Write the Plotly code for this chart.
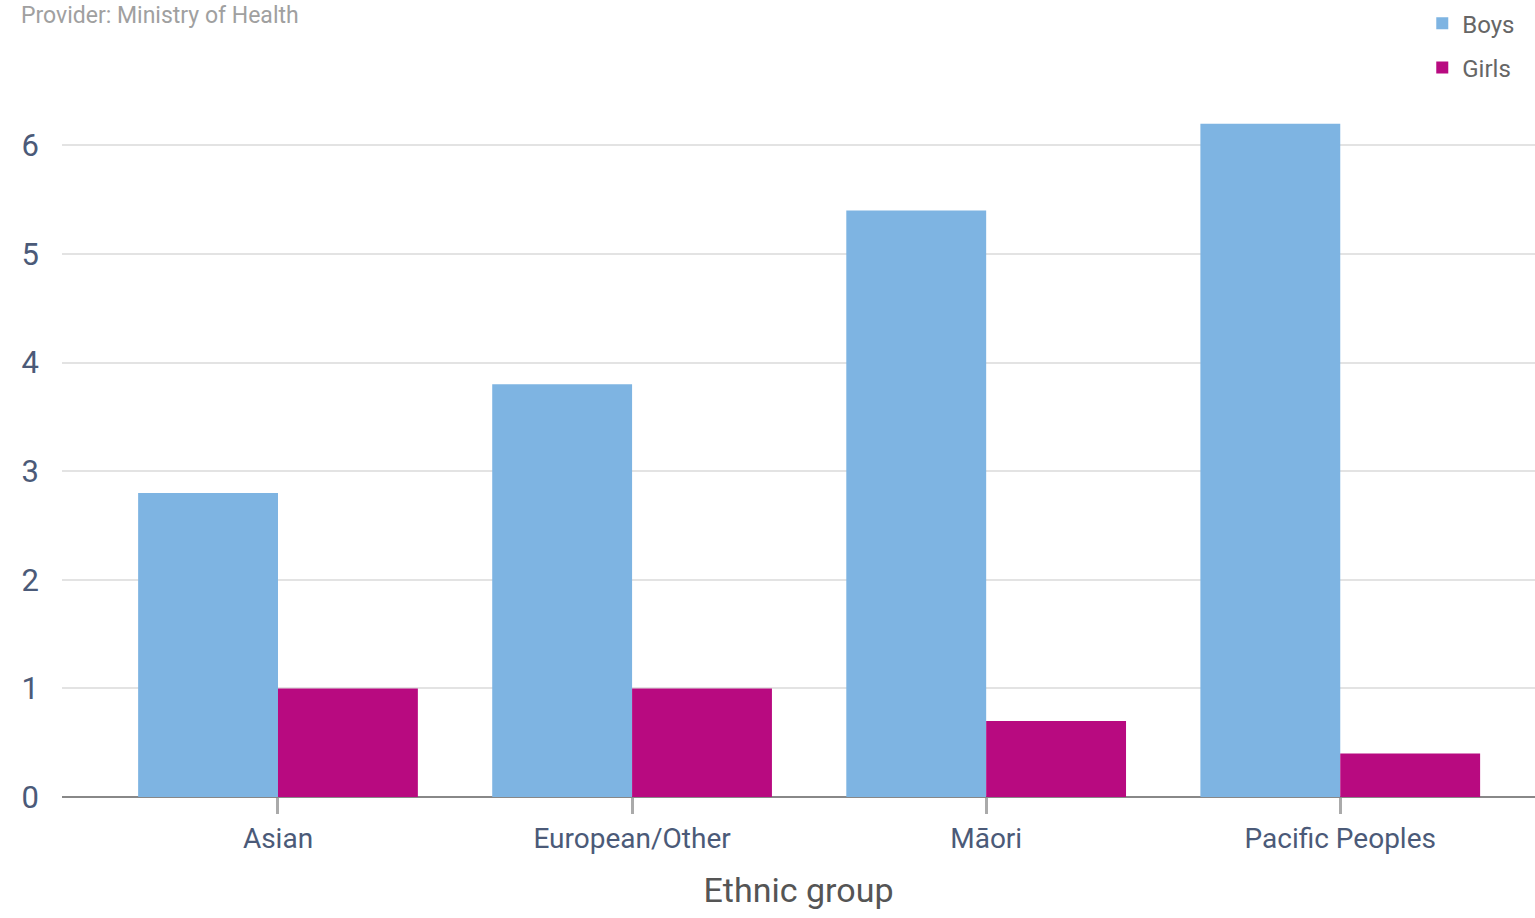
import plotly.graph_objects as go

groups = ["Asian", "European/Other", "Māori", "Pacific Peoples"]
boys = [2.8, 3.8, 5.4, 6.2]
girls = [1.0, 1.0, 0.7, 0.4]

FONT = "Liberation Sans Narrow, Roboto, sans-serif"
LABEL = "#4b5a78"

fig = go.Figure()
fig.add_trace(go.Bar(name="Boys", x=groups, y=boys, marker_color="#7eb4e2",
                     marker_line_width=0, legendgroup="boys"))
fig.add_trace(go.Bar(name="Girls", x=groups, y=girls, marker_color="#b80a80",
                     marker_line_width=0, legendgroup="girls"))

fig.update_layout(
    width=1535, height=918,
    margin=dict(l=62, r=0, t=102, b=121, autoexpand=False),
    barmode="group", bargap=0.21, bargroupgap=0,
    plot_bgcolor="white", paper_bgcolor="white",
    font=dict(family=FONT, color=LABEL),
    showlegend=True,
    legend=dict(x=0.99, xanchor="right", y=1.145, yanchor="top",
                font=dict(size=24, color="#666666", family=FONT),
                itemsizing="constant", tracegroupgap=10, bgcolor="rgba(0,0,0,0)"),
    xaxis=dict(
        range=[-0.61, 3.55],
        title=dict(text="Ethnic group", font=dict(size=34, color="#555555", family=FONT), standoff=24),
        tickfont=dict(size=28, color=LABEL, family=FONT),
        ticks="outside", ticklen=16, tickwidth=3, tickcolor="#aaaaaa",
        showline=False, showgrid=False,
    ),
    yaxis=dict(
        range=[0, 6.4],
        tickvals=[0, 1, 2, 3, 4, 5, 6],
        tickfont=dict(size=31, color=LABEL, family=FONT),
        showgrid=True, gridcolor="#e3e3e3", gridwidth=2,
        zeroline=True, zerolinecolor="#888888", zerolinewidth=2,
        ticklabelstandoff=22, showline=False,
    ),
    annotations=[dict(text="Provider: Ministry of Health", xref="paper", yref="paper",
                      x=-0.029, xanchor="left", y=1.124, yanchor="middle", showarrow=False,
                      font=dict(size=23, color="#a0a0a0", family=FONT))],
)

fig.write_html("out.html")
